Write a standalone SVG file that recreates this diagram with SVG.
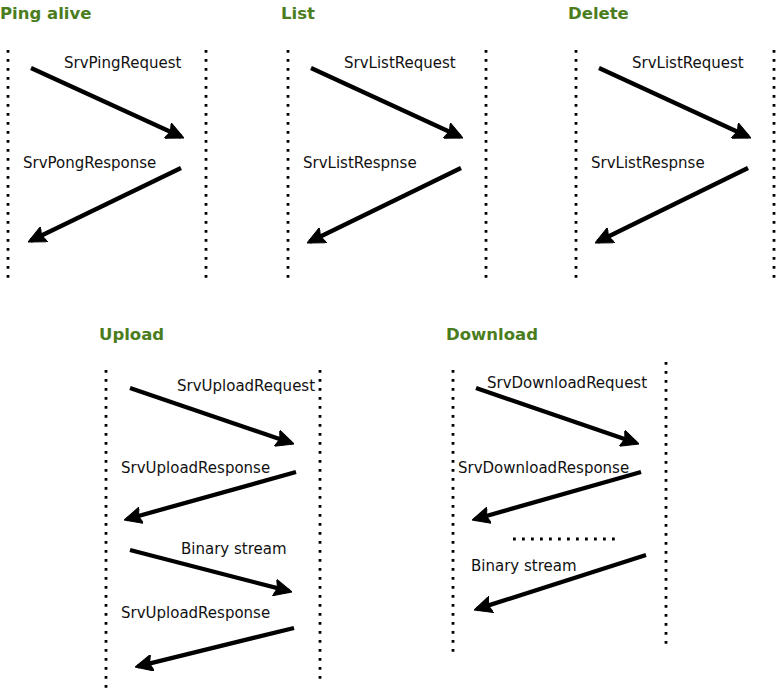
<svg xmlns="http://www.w3.org/2000/svg" width="779" height="691" viewBox="0 0 779 691">
<style>
.title{font-family:"DejaVu Sans","Liberation Sans",sans-serif;font-weight:bold;font-size:16.5px;fill:#4b7d1e}
.lbl{font-family:"DejaVu Sans","Liberation Sans",sans-serif;font-size:15px;fill:#111}
.life{stroke:#000;stroke-width:2.8;stroke-dasharray:2.8 6.2;fill:none}
.msg{stroke:#000;stroke-width:4.3;fill:none;marker-end:url(#ah)}
</style>
<defs>
<marker id="ah" markerUnits="userSpaceOnUse" viewBox="0 0 18 17" refX="15" refY="8.5" markerWidth="18" markerHeight="17" orient="auto">
<path d="M0,0 L18,8.5 L0,17 L3,8.5 z" fill="#000" stroke="#000" stroke-width="1" stroke-linejoin="round"/>
</marker>
</defs>
<rect width="779" height="691" fill="#fff"/>

<g id="ping">
<text class="title" x="0" y="19">Ping alive</text>
<line class="life" x1="8" y1="50" x2="8" y2="278"/>
<line class="life" x1="206" y1="50" x2="206" y2="278"/>
<text class="lbl" x="64" y="68">SrvPingRequest</text>
<text class="lbl" x="23" y="168">SrvPongResponse</text>
</g>
<g id="list">
<text class="title" x="281" y="19">List</text>
<line class="life" x1="288" y1="50" x2="288" y2="278"/>
<line class="life" x1="486" y1="50" x2="486" y2="278"/>
<text class="lbl" x="344" y="68">SrvListRequest</text>
<text class="lbl" x="303" y="168">SrvListRespnse</text>
</g>
<g id="delete">
<text class="title" x="568" y="19">Delete</text>
<line class="life" x1="576" y1="50" x2="576" y2="278"/>
<line class="life" x1="774" y1="50" x2="774" y2="278"/>
<text class="lbl" x="632" y="68">SrvListRequest</text>
<text class="lbl" x="591" y="168">SrvListRespnse</text>
</g>
<g id="upload">
<text class="title" x="99" y="340">Upload</text>
<line class="life" x1="106" y1="370" x2="106" y2="690"/>
<line class="life" x1="320" y1="370" x2="320" y2="682"/>
<text class="lbl" x="177" y="391">SrvUploadRequest</text>
<text class="lbl" x="121" y="473">SrvUploadResponse</text>
<text class="lbl" x="181" y="554">Binary stream</text>
<text class="lbl" x="121" y="618">SrvUploadResponse</text>
</g>
<g id="download">
<text class="title" x="446" y="340">Download</text>
<line class="life" x1="453" y1="370" x2="453" y2="652"/>
<line class="life" x1="666" y1="362" x2="666" y2="646"/>
<text class="lbl" x="487" y="388">SrvDownloadRequest</text>
<text class="lbl" x="458" y="473">SrvDownloadResponse</text>
<line class="life" x1="513" y1="539" x2="616" y2="539" stroke-dasharray="2.8 5.7"/>
<text class="lbl" x="471" y="571">Binary stream</text>
</g>

<g id="connectors">
<line class="msg" x1="31" y1="68" x2="181.3" y2="136.8"/>
<line class="msg" x1="181" y1="168" x2="30.7" y2="240.7"/>
<line class="msg" x1="311" y1="68" x2="460.3" y2="136.7"/>
<line class="msg" x1="461" y1="168" x2="309.7" y2="241.7"/>
<line class="msg" x1="599" y1="68" x2="748.3" y2="136.7"/>
<line class="msg" x1="748" y1="168" x2="597.7" y2="241.7"/>
<line class="msg" x1="130" y1="388" x2="291.2" y2="443"/>
<line class="msg" x1="296" y1="472" x2="126.9" y2="519.2"/>
<line class="msg" x1="130" y1="550" x2="289.1" y2="591.2"/>
<line class="msg" x1="294" y1="628" x2="137.9" y2="666.3"/>
<line class="msg" x1="476" y1="388" x2="636.2" y2="443"/>
<line class="msg" x1="641" y1="472" x2="474.9" y2="519.2"/>
<line class="msg" x1="646" y1="555" x2="476.9" y2="609.1"/>
</g>
</svg>
